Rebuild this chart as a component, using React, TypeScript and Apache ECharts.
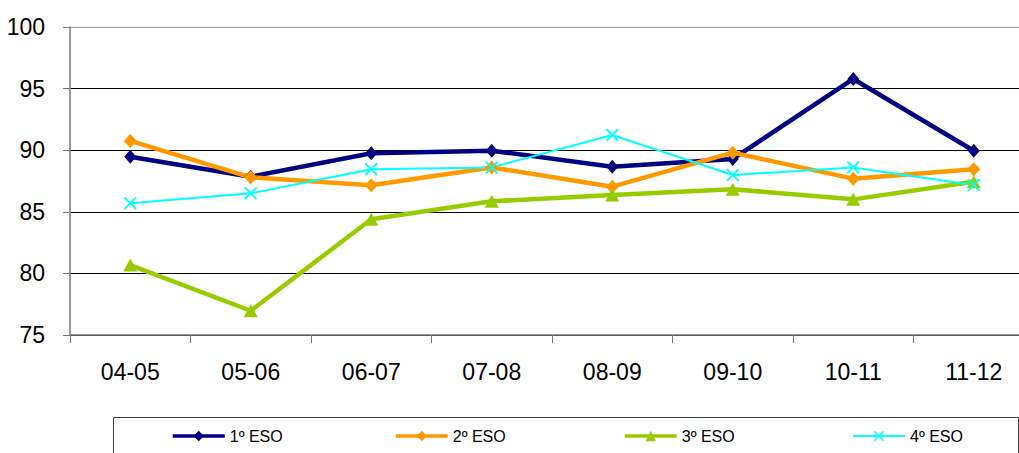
import React, { useEffect, useRef } from "react";
import * as echarts from "echarts";

const categories = ["04-05", "05-06", "06-07", "07-08", "08-09", "09-10", "10-11", "11-12"];
const seriesNames = ["1º ESO", "2º ESO", "3º ESO", "4º ESO"];
const eso1 = [89.47, 87.85, 89.75, 89.96, 88.66, 89.29, 95.78, 89.96];
const eso2 = [90.75, 87.8, 87.15, 88.6, 87.04, 89.8, 87.69, 88.45];
const eso3 = [80.68, 76.97, 84.39, 85.85, 86.36, 86.83, 86.01, 87.44];
const eso4 = [85.69, 86.5, 88.45, 88.6, 91.23, 87.99, 88.6, 87.18];
const yTicks = { min: 75, max: 100, interval: 5 };

const FONT = "'Liberation Sans', Arial, sans-serif";
const X_SYMBOL = "path://M0,1L1,0L5,4L9,0L10,1L6,5L10,9L9,10L5,6L1,10L0,9L4,5Z";

export default function App() {
  const ref = useRef<HTMLDivElement>(null);
  useEffect(() => {
    if (!ref.current) return;
    const chart = echarts.init(ref.current, undefined, { renderer: "svg" });
    const colors = ["#000080", "#FF9900", "#99CC00", "#00FFFF"];
    const widths = [4.5, 4.5, 4.5, 2];
    const legendLefts = [171, 394, 623, 852];
    chart.setOption({
      animation: false,
      textStyle: { fontFamily: FONT },
      grid: { left: 70, top: 27, width: 964, height: 308, containLabel: false },
      xAxis: {
        type: "category",
        data: categories,
        boundaryGap: true,
        axisLine: { lineStyle: { color: "#777", width: 1.5 } },
        axisTick: { show: true, length: 8, lineStyle: { color: "#777" } },
        axisLabel: { color: "#000", fontSize: 23, margin: 25, fontFamily: FONT },
        splitLine: { show: false },
      },
      yAxis: {
        type: "value",
        min: yTicks.min,
        max: yTicks.max,
        interval: yTicks.interval,
        axisLine: { show: true, lineStyle: { color: "#777", width: 1.5 } },
        axisTick: { show: true, length: 7, lineStyle: { color: "#777" } },
        axisLabel: { color: "#000", fontSize: 23, margin: 25, fontFamily: FONT },
        splitLine: {
          show: true,
          lineStyle: { color: ["#000", "#000", "#000", "#000", "#000", "#999"], width: 1 },
        },
      },
      legend: seriesNames.map((n, i) => ({
        data: [n],
        left: legendLefts[i],
        top: 428,
        padding: 0,
        itemWidth: 52,
        itemHeight: 13,
        lineStyle: { width: i === 3 ? 2 : 3.5 },
        textStyle: { fontSize: 16, color: "#000", fontFamily: FONT },
      })),
      graphic: [
        {
          type: "rect",
          shape: { x: 113.5, y: 417.5, width: 905, height: 40 },
          style: { fill: "none", stroke: "#404040", lineWidth: 1 },
          z: -1,
        },
      ],
      series: [
        {
          name: seriesNames[0],
          type: "line",
          data: eso1,
          symbol: "diamond",
          symbolSize: [12, 14],
          lineStyle: { color: colors[0], width: widths[0] },
          itemStyle: { color: colors[0] },
        },
        {
          name: seriesNames[1],
          type: "line",
          data: eso2,
          symbol: "diamond",
          symbolSize: [13, 14],
          lineStyle: { color: colors[1], width: widths[1] },
          itemStyle: { color: colors[1] },
        },
        {
          name: seriesNames[2],
          type: "line",
          data: eso3,
          symbol: "triangle",
          symbolSize: [14, 13],
          lineStyle: { color: colors[2], width: widths[2] },
          itemStyle: { color: colors[2] },
        },
        {
          name: seriesNames[3],
          type: "line",
          data: eso4,
          symbol: X_SYMBOL,
          symbolSize: 13,
          lineStyle: { color: colors[3], width: widths[3] },
          itemStyle: { color: colors[3] },
        },
      ],
    });
    return () => chart.dispose();
  }, []);
  return (
    <div
      style={{
        position: "absolute",
        left: 0,
        top: 0,
        width: 1019,
        height: 453,
        overflow: "hidden",
      }}
    >
      <div ref={ref} style={{ width: 1040, height: 453 }} />
    </div>
  );
}
